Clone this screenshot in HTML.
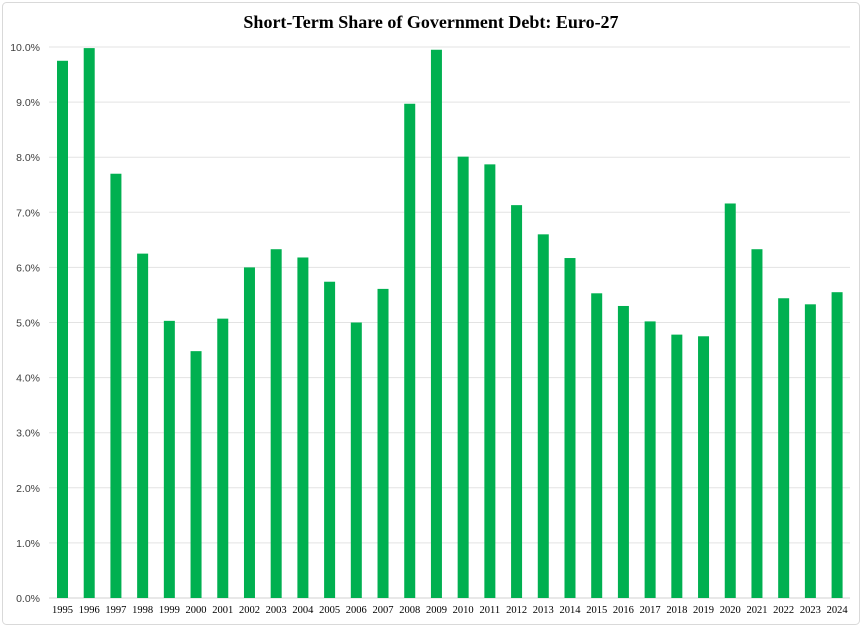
<!DOCTYPE html>
<html><head><style>
body{margin:0;background:#fff;}
svg{display:block;}
</style></head><body>
<svg width="862" height="628" xmlns="http://www.w3.org/2000/svg">
<rect x="2.5" y="2.5" width="857" height="622" rx="4" fill="#fff" stroke="#d9d9d9"/>
<text x="431" y="28" text-anchor="middle" font-family="Liberation Serif, serif" font-weight="bold" font-size="18" fill="#000">Short-Term Share of Government Debt: Euro-27</text>
<g id="g"></g>
</svg>
<script>
var v=[9.75,9.98,7.7,6.25,5.03,4.48,5.07,6.0,6.33,6.18,5.74,5.0,5.61,8.97,9.95,8.01,7.87,7.13,6.6,6.17,5.53,5.30,5.02,4.78,4.75,7.16,6.33,5.44,5.33,5.55];
var s='',y0=598,k=55.1;
for(var i=0;i<=10;i++){var y=y0-i*k;s+='<line x1="49" x2="850" y1="'+y+'" y2="'+y+'" stroke="'+(i?'#e3e3e3':'#d0d0d0')+'" stroke-width="1"/>';
s+='<text x="40" y="'+(y+4)+'" text-anchor="end" font-family="Liberation Sans, sans-serif" font-size="10.5" fill="#404040">'+i+'.0%</text>';}
for(var j=0;j<30;j++){var x=57+j*26.71,h=v[j]*k;
s+='<rect x="'+x+'" y="'+(y0-h)+'" width="11" height="'+h+'" fill="#00b050"/>';
s+='<text x="'+(x+5.5)+'" y="613" text-anchor="middle" font-family="Liberation Serif, serif" font-size="10.5" fill="#000">'+(1995+j)+'</text>';}
document.getElementById('g').innerHTML=s;
</script>
</body></html>
